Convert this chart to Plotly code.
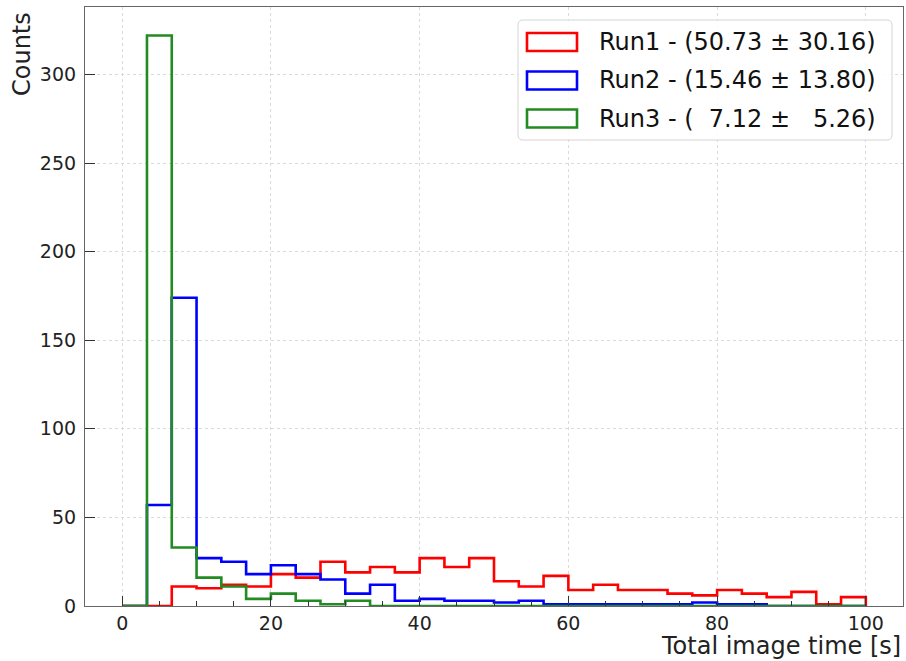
import numpy as np
import plotly.graph_objects as go

# ---- data -------------------------------------------------------------
BIN_LO, BIN_HI, N_BINS = 0.0, 100.0, 30

run1_counts = [0, 0, 11, 10, 12, 11, 18, 16, 25, 19, 22, 19, 27, 22, 27,
               14, 11, 17, 9, 12, 9, 9, 7, 6, 9, 7, 5, 8, 1, 5]
run2_counts = [0, 57, 174, 27, 25, 18, 23, 18, 15, 7, 12, 3, 4, 3, 3,
               2, 3, 1, 1, 1, 1, 1, 1, 2, 1, 1, 0, 0, 0, 0]
run3_counts = [0, 322, 33, 16, 11, 4, 7, 3, 1, 3, 0, 0, 0, 0, 0,
               0, 0, 0, 0, 0, 0, 0, 0, 0, 0, 0, 0, 0, 0, 0]

labels = ["Run1 - (50.73 \u00b1 30.16)",
          "Run2 - (15.46 \u00b1 13.80)",
          "Run3 - (\u00a0\u00a07.12 \u00b1\u00a0\u00a0\u00a05.26)"]
colors = ["#ff0000", "#0000ff", "#228b22"]

x_ticks = [0, 20, 40, 60, 80, 100]
y_ticks = [0, 50, 100, 150, 200, 250, 300]
x_title = "Total image time [s]"
y_title = "Counts"

# ---- figure -----------------------------------------------------------
W, H = 906, 661
ML, MR, MT, MB = 85, 3, 7, 55
PW, PH = W - ML - MR, H - MT - MB

edges = np.linspace(BIN_LO, BIN_HI, N_BINS + 1)


def step_xy(counts):
    c = list(counts)
    xs = [edges[0]] + list(edges[:-1]) + [edges[-1]]
    ys = [0] + c + [0]
    return xs, ys


fig = go.Figure()
for counts, name, col in zip([run1_counts, run2_counts, run3_counts], labels, colors):
    xs, ys = step_xy(counts)
    fig.add_trace(go.Scatter(x=xs, y=ys, mode="lines", name=name,
                             line=dict(color=col, width=2.6, shape="hv"),
                             showlegend=False, hoverinfo="skip"))

ymax = max(max(run1_counts), max(run2_counts), max(run3_counts)) * 1.05
fig.update_layout(
    width=W, height=H,
    margin=dict(l=ML, r=MR, t=MT, b=MB),
    paper_bgcolor="white", plot_bgcolor="white",
    font=dict(family="DejaVu Sans", color="#222222", size=19),
    xaxis=dict(range=[-5, 105], tickvals=x_ticks, ticks="inside", ticklen=10,
               tickwidth=1.2, tickcolor="#333333",
               minor=dict(ticks="inside", ticklen=5, dtick=5, tickcolor="#333333",
                          showgrid=False),
               showgrid=True, gridcolor="#dadada", griddash="dot", gridwidth=1,
               zeroline=False, showline=True, linecolor="#666666", linewidth=1.2,
               mirror=True, tickfont=dict(size=19)),
    yaxis=dict(range=[0, ymax], tickvals=y_ticks, ticks="inside", ticklen=10,
               tickwidth=1.2, tickcolor="#333333",
               showgrid=True, gridcolor="#dadada", griddash="dot", gridwidth=1,
               zeroline=False, showline=True, linecolor="#666666", linewidth=1.2,
               mirror=True, tickfont=dict(size=19), ticklabelstandoff=4),
)


def px_x(p):
    return (p - ML) / PW


def px_y(p):
    return (H - MB - p) / PH


# axis titles (matplotlib style: right / top aligned)
fig.add_annotation(text=x_title, xref="paper", yref="paper",
                   x=px_x(903), y=px_y(646), xanchor="right", yanchor="middle",
                   showarrow=False, font=dict(size=24, color="#222222"))
fig.add_annotation(text=y_title, xref="paper", yref="paper",
                   x=px_x(22), y=px_y(54), xanchor="center", yanchor="middle",
                   textangle=-90, showarrow=False, font=dict(size=24, color="#222222"))

# legend box (rounded)
bx0, bx1, by0, by1 = 518, 892, 20, 140
r = 5
path = (f"M {px_x(bx0 + r)} {px_y(by0)} L {px_x(bx1 - r)} {px_y(by0)} "
        f"Q {px_x(bx1)} {px_y(by0)} {px_x(bx1)} {px_y(by0 + r)} "
        f"L {px_x(bx1)} {px_y(by1 - r)} Q {px_x(bx1)} {px_y(by1)} {px_x(bx1 - r)} {px_y(by1)} "
        f"L {px_x(bx0 + r)} {px_y(by1)} Q {px_x(bx0)} {px_y(by1)} {px_x(bx0)} {px_y(by1 - r)} "
        f"L {px_x(bx0)} {px_y(by0 + r)} Q {px_x(bx0)} {px_y(by0)} {px_x(bx0 + r)} {px_y(by0)} Z")
fig.add_shape(type="path", path=path, xref="paper", yref="paper",
              line=dict(color="#d4d4d4", width=1), fillcolor="rgba(255,255,255,0.85)")

row_centers = [42, 80.5, 118.5]
for yc, name, col in zip(row_centers, labels, colors):
    fig.add_shape(type="rect", xref="paper", yref="paper",
                  x0=px_x(527), x1=px_x(577), y0=px_y(yc - 9), y1=px_y(yc + 9),
                  line=dict(color=col, width=2.6), fillcolor="rgba(0,0,0,0)")
    fig.add_annotation(text=name, xref="paper", yref="paper",
                       x=px_x(597), y=px_y(yc), xanchor="left", yanchor="middle",
                       showarrow=False, font=dict(size=24, color="#111111"))

fig.write_html("out.html", config={"displayModeBar": False},
               post_script="document.body.style.margin='0';document.body.style.overflow='hidden';")
